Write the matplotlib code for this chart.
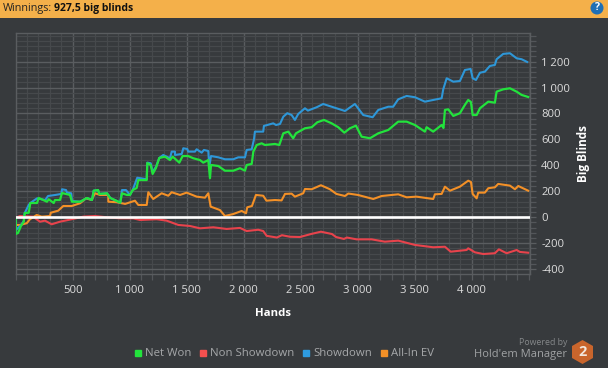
import matplotlib
matplotlib.use("Agg")
import matplotlib.pyplot as plt
from matplotlib.lines import Line2D
from matplotlib.patches import Ellipse, Polygon, Rectangle
from matplotlib.ticker import MultipleLocator

plt.rcParams["font.family"] = ["Open Sans", "DejaVu Sans"]

# ===============================
# Data
# ===============================
net_hands = [2, 2, 22, 48, 72, 81, 116, 130, 189, 203, 276, 291, 335, 346, 390, 408, 478, 495, 568, 627,
             671, 686, 724, 735, 802, 831, 919, 934, 978, 1004, 1028, 1063, 1077, 1151, 1156, 1186, 1203, 1232, 1261, 1311,
             1355, 1379, 1437, 1466, 1515, 1559, 1618, 1647, 1691, 1706, 1715, 1779, 1837, 1910, 1969, 2013, 2028, 2072, 2086, 2116,
             2159, 2188, 2276, 2314, 2349, 2393, 2436, 2460, 2539, 2598, 2647, 2706, 2773, 2831, 2884, 2934, 2986, 3036, 3109, 3182,
             3270, 3357, 3431, 3504, 3591, 3606, 3664, 3738, 3754, 3767, 3796, 3840, 3898, 3942, 3971, 3995, 4010, 4045, 4074, 4147,
             4205, 4220, 4278, 4337, 4396, 4439, 4497]
net_won = [-5, -129, -121, -67, -34, 33, 35, 110, 110, 149, 120, 139, 110, 133, 133, 187, 172, 120, 120, 149,
           133, 205, 210, 180, 185, 149, 113, 185, 172, 172, 210, 226, 287, 287, 418, 403, 334, 380, 457, 467,
           441, 467, 421, 472, 472, 455, 441, 421, 441, 301, 403, 395, 359, 359, 378, 359, 403, 411, 506, 557,
           570, 557, 565, 557, 647, 660, 609, 647, 686, 694, 732, 750, 724, 694, 652, 686, 706, 621, 609, 647,
           673, 737, 737, 711, 660, 694, 660, 711, 688, 827, 832, 781, 802, 866, 904, 888, 788, 788, 840, 891,
           883, 968, 986, 994, 968, 943, 927]

show_hands = [2, 2, 48, 72, 81, 116, 130, 189, 261, 285, 349, 402, 408, 443, 452, 489, 495, 568, 627, 671,
              686, 724, 735, 802, 831, 919, 934, 969, 1004, 1028, 1068, 1151, 1156, 1186, 1203, 1232, 1261, 1296, 1355, 1370,
              1399, 1399, 1458, 1472, 1507, 1515, 1574, 1589, 1633, 1653, 1691, 1700, 1715, 1779, 1837, 1910, 1954, 2013, 2028, 2072,
              2092, 2100, 2173, 2179, 2261, 2285, 2320, 2349, 2384, 2422, 2451, 2480, 2539, 2565, 2642, 2699, 2787, 2890, 2977, 3050,
              3133, 3182, 3270, 3313, 3357, 3431, 3504, 3591, 3664, 3738, 3752, 3782, 3840, 3898, 3942, 3992, 4010, 4039, 4074, 4117,
              4161, 4205, 4220, 4278, 4337, 4396, 4439, 4488]
showdown = [-5, -100, -60, -30, 33, 95, 110, 146, 133, 164, 172, 180, 216, 210, 190, 185, 126, 120, 149, 133,
            205, 210, 180, 185, 149, 113, 210, 210, 172, 210, 305, 293, 421, 416, 351, 388, 457, 480, 455, 506,
            506, 480, 488, 532, 526, 506, 506, 524, 498, 519, 511, 390, 472, 462, 447, 447, 462, 462, 519, 524,
            601, 660, 660, 704, 724, 711, 719, 775, 802, 788, 750, 796, 840, 822, 848, 873, 848, 819, 873, 788,
            771, 827, 852, 852, 909, 935, 925, 891, 904, 917, 986, 1071, 1045, 1050, 1135, 1143, 1071, 1058, 1114, 1122,
            1166, 1174, 1218, 1259, 1264, 1225, 1218, 1197]

ev_hands = [2, 39, 98, 127, 186, 230, 303, 309, 375, 419, 493, 566, 618, 668, 697, 741, 814, 814, 887, 962,
            1048, 1077, 1151, 1165, 1208, 1282, 1340, 1370, 1443, 1501, 1589, 1662, 1691, 1712, 1793, 1837, 1910, 1984, 2022, 2033,
            2074, 2109, 2173, 2201, 2276, 2334, 2364, 2422, 2451, 2524, 2539, 2598, 2679, 2758, 2815, 2890, 2919, 3004, 3138, 3212,
            3357, 3431, 3518, 3664, 3679, 3738, 3767, 3811, 3898, 3971, 3995, 4010, 4045, 4059, 4117, 4147, 4205, 4234, 4337, 4381,
            4410, 4497]
all_in_ev = [-59, -59, -46, -15, 18, 5, 10, 35, 51, 87, 87, 108, 146, 133, 185, 172, 172, 120, 116, 103,
             128, 95, 95, 193, 141, 185, 166, 193, 172, 190, 159, 151, 185, 82, 56, 10, 25, 49, 31, 77,
             87, 172, 166, 128, 133, 130, 180, 182, 159, 185, 218, 216, 247, 216, 180, 164, 183, 172, 141, 164,
             177, 154, 159, 141, 177, 180, 236, 205, 236, 282, 272, 180, 146, 190, 190, 224, 231, 257, 244, 216,
             241, 205]

non_hands = [2, 39, 153, 215, 259, 317, 390, 493, 595, 697, 800, 916, 1033, 1092, 1238, 1326, 1428, 1530, 1618, 1735,
             1852, 1969, 2028, 2129, 2173, 2203, 2293, 2337, 2407, 2495, 2592, 2679, 2776, 2811, 2881, 2907, 2992, 3124, 3240, 3357,
             3504, 3664, 3767, 3817, 3957, 3971, 4030, 4103, 4205, 4240, 4308, 4396, 4424, 4497]
non_showdown = [-5, 10, 5, -34, -26, -54, -34, -15, 5, 10, 0, -8, -8, -21, -15, -26, -59, -67, -85, -77,
                -90, -82, -106, -96, -106, -143, -156, -138, -150, -152, -129, -111, -129, -152, -167, -156, -170, -170, -188, -180,
                -213, -231, -227, -265, -252, -239, -270, -283, -277, -247, -277, -252, -267, -273]

x_ticks = [500, 1000, 1500, 2000, 2500, 3000, 3500, 4000]
x_labels = ["500", "1 000", "1 500", "2 000", "2 500", "3 000", "3 500", "4 000"]
y_ticks = [-400, -200, 0, 200, 400, 600, 800, 1000, 1200]
y_labels = ["-400", "-200", "0", "200", "400", "600", "800", "1 000", "1 200"]

# ===============================
# Colours
# ===============================
BG = "#373a3d"
GREEN = "#22e33c"
RED = "#e8434c"
BLUE = "#2e97d8"
ORANGE = "#f39027"

W, H = 608, 368
fig = plt.figure(figsize=(W / 100, H / 100), dpi=100, facecolor=BG)
ax = fig.add_axes([15.5 / W, 1 - 274 / H, (530 - 15.5) / W, (274 - 33) / H], facecolor=BG)

# ===============================
# Lines
# ===============================
ax.axhline(0, color="white", lw=1.9, zorder=7)
ax.plot(non_hands, non_showdown, color=RED, lw=1.5, zorder=3)
ax.plot(ev_hands, all_in_ev, color=ORANGE, lw=1.5, zorder=4)
ax.plot(show_hands, showdown, color=BLUE, lw=1.5, zorder=5)
ax.plot(net_hands, net_won, color=GREEN, lw=1.6, zorder=6)

ax.set_xlim(0, 4513)
ax.set_ylim(-437, 1420)

# ===============================
# Axes, grid and ticks
# ===============================
ax.set_xticks(x_ticks)
ax.set_xticklabels(x_labels)
ax.set_yticks(y_ticks)
ax.set_yticklabels(y_labels)
ax.xaxis.set_minor_locator(MultipleLocator(100))
ax.yaxis.set_minor_locator(MultipleLocator(40))
ax.yaxis.tick_right()
ax.grid(which="major", color="#5a5d60", lw=1.0, zorder=1)
ax.grid(which="minor", color="#46494c", lw=0.9, zorder=0)
ax.set_axisbelow(True)
ax.tick_params(which="major", length=4, width=0.9, color="#5a5d60", labelcolor="#dcdcdc",
               labelsize=8.1, pad=4)
ax.tick_params(which="minor", length=4, width=0.9, color="#53565a")
for s in ax.spines.values():
    s.set_color("#5a5d60")
    s.set_linewidth(1.0)

ax.set_xlabel("Hands", color="white", fontsize=8.2, fontweight="bold", va="center")
ax.xaxis.set_label_coords((272.5 - 15.5) / 514.5, (274 - 313) / 241)
ax.yaxis.set_label_position("right")
ax.set_ylabel("Big Blinds", color="white", fontsize=8.5, fontweight="bold", va="center")
ax.yaxis.set_label_coords((583 - 15.5) / 514.5, 0.5)

# ===============================
# Header bar
# ===============================
fig.add_artist(Rectangle((0, 1 - 18 / H), 1, 18 / H, transform=fig.transFigure, color="#f4b04a", lw=0))
fig.text(3 / W, 1 - 8.8 / H, "Winnings:", color="#222222", fontsize=7.8, va="center")
fig.text(53.5 / W, 1 - 8.8 / H, "927,5 big blinds", color="#111111", fontsize=7.5, va="center", fontweight="bold")
fig.add_artist(Ellipse((597 / W, 1 - 8 / H), 13 / W, 13 / H, transform=fig.transFigure, color="#1f6fb5", lw=0))
fig.text(597 / W, 1 - 8 / H, "?", color="white", fontsize=7.5, fontweight="bold", ha="center", va="center")

# ===============================
# Legend
# ===============================
handles = [Line2D([], [], ls="none", marker="s", ms=5, color=c) for c in [GREEN, "#f5504f", "#2e9be0", ORANGE]]
fig.legend(handles, ["Net Won", "Non Showdown", "Showdown", "All-In EV"], ncol=4, frameon=False,
           loc="center left", bbox_to_anchor=(122 / W, 1 - 354 / H), fontsize=8.2, labelcolor="#a6a8aa",
           handlelength=1.0, handletextpad=0.1, columnspacing=0.55)

# ===============================
# Logo
# ===============================
fig.text(567 / W, 1 - 342.5 / H, "Powered by", color="#85888a", fontsize=6.3, ha="right", va="center")
fig.text(567 / W, 1 - 354.5 / H, "Hold'em Manager", color="#a0a2a4", fontsize=8.0, ha="right", va="center")
hex_x = [582.5, 593, 593, 582.5, 572, 572]
hex_y = [340, 346, 358, 364, 358, 346]
fig.add_artist(Polygon([(x / W, 1 - y / H) for x, y in zip(hex_x, hex_y)], transform=fig.transFigure,
                       color="#c9652c", lw=0))
fig.text(582.5 / W, 1 - 352 / H, "2", color="#f2e6dc", fontsize=10.5, fontweight="bold", ha="center", va="center")

plt.savefig("out.png", dpi=100, facecolor=BG)
